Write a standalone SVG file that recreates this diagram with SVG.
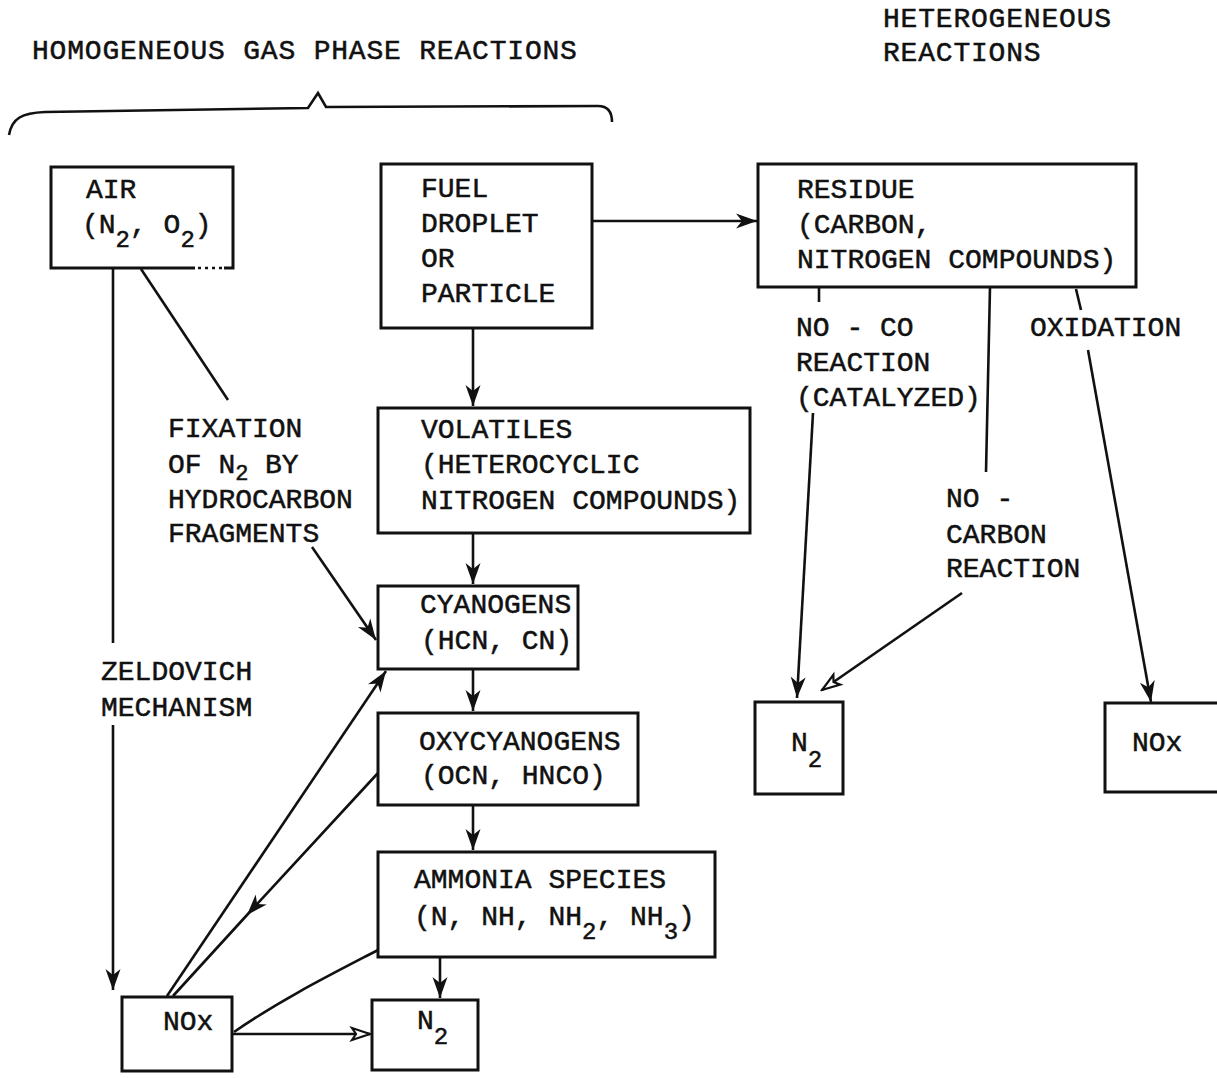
<svg xmlns="http://www.w3.org/2000/svg" width="1217" height="1078" viewBox="0 0 1217 1078">
<style>
text{font-family:"Liberation Mono","DejaVu Sans Mono",monospace;font-size:28px;fill:#111;stroke:#111;stroke-width:0.5}
.sub{font-size:24px}
.sm{font-size:22px}
.ttl{letter-spacing:0.8px}
.box{fill:none;stroke:#111;stroke-width:3}
.ln{fill:none;stroke:#111;stroke-width:2.6}
</style>
<defs>
<marker id="ah" viewBox="-23 -10 25 20" refX="0" refY="0" markerWidth="25" markerHeight="20" markerUnits="userSpaceOnUse" orient="auto">
<path d="M0,0 L-21,-7.5 L-15,0 L-21,7.5 Z" fill="#111"/>
</marker>
<marker id="ao" viewBox="-22 -10 24 20" refX="0" refY="0" markerWidth="24" markerHeight="20" markerUnits="userSpaceOnUse" orient="auto">
<path d="M0,0 L-18,-6 L-14,0 L-18,6 Z" fill="#fff" stroke="#111" stroke-width="2.2"/>
</marker>
</defs>
<rect width="1217" height="1078" fill="#fff"/>

<g id="titles">
<text class="ttl" x="32" y="59">HOMOGENEOUS GAS PHASE REACTIONS</text>
<text class="ttl" x="883" y="27">HETEROGENEOUS</text>
<text class="ttl" x="883" y="61">REACTIONS</text>
<path class="ln" d="M9,135 C12,118 22,113 45,112 L308,108 L318,93 L326,107 L598,106 C608,106 612,112 612,122"/>
</g>

<g id="air">
<path class="box" d="M195,268 L51,268 L51,167 L233,167 L233,268 L224,268"/>
<path d="M198,268 L222,268" stroke="#111" stroke-width="2.5" stroke-dasharray="3,4"/>
<text x="86" y="198">AIR</text>
<text x="82" y="233">(N<tspan class="sub" dy="14">2</tspan><tspan dy="-14">, O</tspan><tspan class="sub" dy="14">2</tspan><tspan dy="-14">)</tspan></text>
</g>

<g id="fuel">
<rect class="box" x="381" y="164" width="211" height="164"/>
<text x="421" y="197">FUEL</text>
<text x="421" y="232">DROPLET</text>
<text x="421" y="267">OR</text>
<text x="421" y="302">PARTICLE</text>
</g>

<g id="residue">
<rect class="box" x="758" y="164" width="378" height="123"/>
<text x="797" y="198">RESIDUE</text>
<text x="797" y="233">(CARBON,</text>
<text x="797" y="268">NITROGEN COMPOUNDS)</text>
</g>

<g id="volatiles">
<rect class="box" x="378" y="408" width="372" height="125"/>
<text x="421" y="438">VOLATILES</text>
<text x="421" y="473">(HETEROCYCLIC</text>
<text x="421" y="509">NITROGEN COMPOUNDS)</text>
</g>

<g id="cyanogens">
<rect class="box" x="378" y="586" width="200" height="83"/>
<text x="420" y="613">CYANOGENS</text>
<text x="421" y="649">(HCN, CN)</text>
</g>

<g id="oxycyanogens">
<rect class="box" x="378" y="713" width="260" height="92"/>
<text x="419" y="750">OXYCYANOGENS</text>
<text x="421" y="784">(OCN, HNCO)</text>
</g>

<g id="ammonia">
<rect class="box" x="378" y="852" width="337" height="105"/>
<text x="414" y="888">AMMONIA SPECIES</text>
<text x="414" y="925">(N, NH, NH<tspan class="sub" dy="14">2</tspan><tspan dy="-14">, NH</tspan><tspan class="sub" dy="14">3</tspan><tspan dy="-14">)</tspan></text>
</g>

<g id="nox-left">
<rect class="box" x="122" y="997" width="110" height="74"/>
<text x="163" y="1030">NOx</text>
</g>

<g id="n2-left">
<rect class="box" x="372" y="1000" width="106" height="70"/>
<text x="417" y="1029">N<tspan class="sub" dy="15">2</tspan></text>
</g>

<g id="n2-right">
<rect class="box" x="755" y="702" width="88" height="92"/>
<text x="791" y="751">N<tspan class="sub" dy="16">2</tspan></text>
</g>

<g id="nox-right">
<path class="box" d="M1217,703 L1105,703 L1105,792 L1217,792"/>
<text x="1132" y="751">NOx</text>
</g>

<g id="labels">
<text x="168" y="437">FIXATION</text>
<text x="168" y="473">OF N<tspan class="sm" dy="7">2</tspan><tspan dy="-7" x="265">BY</tspan></text>
<text x="168" y="508">HYDROCARBON</text>
<text x="168" y="542">FRAGMENTS</text>
<text x="101" y="680">ZELDOVICH</text>
<text x="101" y="716">MECHANISM</text>
<text x="796" y="336">NO - CO</text>
<text x="796" y="371">REACTION</text>
<text x="796" y="406">(CATALYZED)</text>
<text x="1030" y="336">OXIDATION</text>
<text x="946" y="507">NO -</text>
<text x="946" y="543">CARBON</text>
<text x="946" y="577">REACTION</text>
</g>

<g id="connectors">
<path class="ln" d="M592,221 L757,221" marker-end="url(#ah)"/>
<path class="ln" d="M473,328 L473,406" marker-end="url(#ah)"/>
<path class="ln" d="M473,533 L473,584" marker-end="url(#ah)"/>
<path class="ln" d="M473,669 L473,711" marker-end="url(#ah)"/>
<path class="ln" d="M473,805 L473,850" marker-end="url(#ah)"/>
<path class="ln" d="M440,957 L440,998" marker-end="url(#ah)"/>
<path class="ln" d="M232,1034 L370,1034" marker-end="url(#ao)"/>
<path class="ln" d="M234,1032 C280,1000 330,975 378,950"/>
<path class="ln" d="M113,268 L113,643"/>
<path class="ln" d="M113,725 L113,990" marker-end="url(#ah)"/>
<path class="ln" d="M141,269 L228,400"/>
<path class="ln" d="M312,547 L376,640" marker-end="url(#ah)"/>
<path class="ln" d="M167,996 L386,671" marker-end="url(#ah)"/>
<path class="ln" d="M378,773 L247,915 L173,996" marker-mid="url(#ah)"/>
<path class="ln" d="M819,287 L819,302"/>
<path class="ln" d="M813,413 L797,698" marker-end="url(#ah)"/>
<path class="ln" d="M990,287 L986,472"/>
<path class="ln" d="M962,593 L822,690" marker-end="url(#ao)"/>
<path class="ln" d="M1076,289 L1081,310"/>
<path class="ln" d="M1088,350 L1151,702" marker-end="url(#ah)"/>
</g>
</svg>
